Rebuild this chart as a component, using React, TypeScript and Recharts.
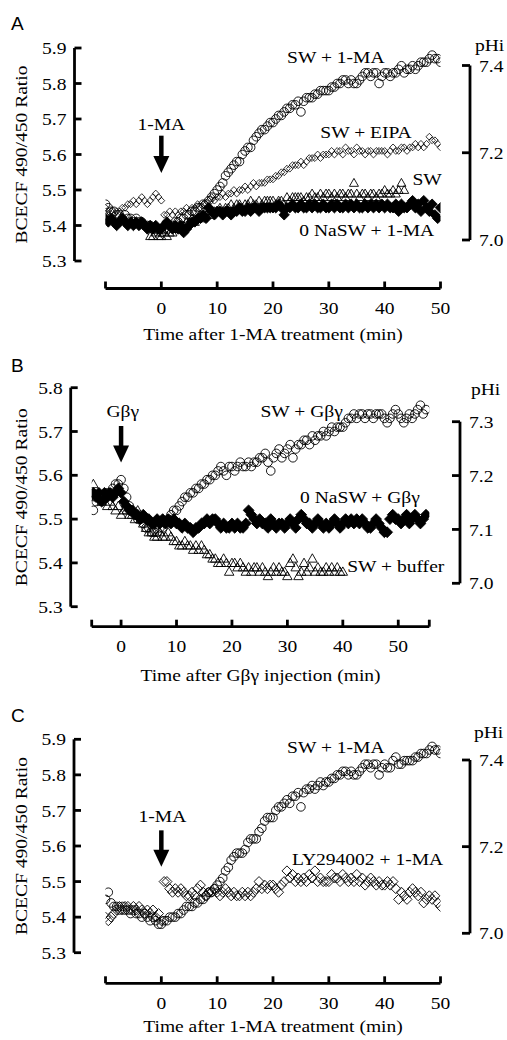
import React from 'react';
import { ComposedChart, Scatter, XAxis, YAxis, ReferenceDot, ReferenceLine } from 'recharts';

// ---------- time grids (min) ----------
const TIME_AC = [
  -10, -9.5, -9, -8.5, -8, -7.5, -7, -6.5, -6, -5.5,
  -5, -4.5, -4, -3.5, -3, -2.5, -2, -1.5, -1, -0.5,
  0, 0.5, 1, 1.5, 2, 2.5, 3, 3.5, 4, 4.5,
  5, 5.5, 6, 6.5, 7, 7.5, 8, 8.5, 9, 9.5,
  10, 10.5, 11, 11.5, 12, 12.5, 13, 13.5, 14, 14.5,
  15, 15.5, 16, 16.5, 17, 17.5, 18, 18.5, 19, 19.5,
  20, 20.5, 21, 21.5, 22, 22.5, 23, 23.5, 24, 24.5,
  25, 25.5, 26, 26.5, 27, 27.5, 28, 28.5, 29, 29.5,
  30, 30.5, 31, 31.5, 32, 32.5, 33, 33.5, 34, 34.5,
  35, 35.5, 36, 36.5, 37, 37.5, 38, 38.5, 39, 39.5,
  40, 40.5, 41, 41.5, 42, 42.5, 43, 43.5, 44, 44.5,
  45, 45.5, 46, 46.5, 47, 47.5, 48, 48.5, 49, 49.5,
  50,
];
const TIME_B = [
  -5, -4.5, -4, -3.5, -3, -2.5, -2, -1.5, -1, -0.5,
  0, 0.5, 1, 1.5, 2, 2.5, 3, 3.5, 4, 4.5,
  5, 5.5, 6, 6.5, 7, 7.5, 8, 8.5, 9, 9.5,
  10, 10.5, 11, 11.5, 12, 12.5, 13, 13.5, 14, 14.5,
  15, 15.5, 16, 16.5, 17, 17.5, 18, 18.5, 19, 19.5,
  20, 20.5, 21, 21.5, 22, 22.5, 23, 23.5, 24, 24.5,
  25, 25.5, 26, 26.5, 27, 27.5, 28, 28.5, 29, 29.5,
  30, 30.5, 31, 31.5, 32, 32.5, 33, 33.5, 34, 34.5,
  35, 35.5, 36, 36.5, 37, 37.5, 38, 38.5, 39, 39.5,
  40, 40.5, 41, 41.5, 42, 42.5, 43, 43.5, 44, 44.5,
  45, 45.5, 46, 46.5, 47, 47.5, 48, 48.5, 49, 49.5,
  50, 50.5, 51, 51.5, 52, 52.5, 53, 53.5, 54, 54.5,
  55,
];

// ---------- Panel A: BCECF ratio ----------
const A_SW_1MA = [
  5.46, 5.45, 5.44, 5.44, 5.43, 5.43, 5.42, 5.43, 5.42, 5.42,
  5.41, 5.42, 5.41, 5.41, 5.40, 5.40, 5.40, 5.39, 5.39, 5.39,
  5.38, 5.39, 5.39, 5.40, 5.40, 5.41, 5.41, 5.42, 5.42, 5.43,
  5.43, 5.44, 5.44, 5.45, 5.45, 5.46, 5.46, 5.47, 5.48, 5.49,
  5.50, 5.51, 5.52, 5.54, 5.55, 5.56, 5.57, 5.58, 5.58, 5.60,
  5.61, 5.62, 5.62, 5.64, 5.65, 5.66, 5.67, 5.67, 5.68, 5.69,
  5.69, 5.70, 5.71, 5.71, 5.72, 5.73, 5.73, 5.74, 5.74, 5.75,
  5.72, 5.75, 5.76, 5.76, 5.76, 5.77, 5.77, 5.78, 5.78, 5.78,
  5.78, 5.79, 5.79, 5.80, 5.80, 5.81, 5.81, 5.80, 5.81, 5.80,
  5.80, 5.81, 5.82, 5.83, 5.83, 5.82, 5.83, 5.83, 5.80, 5.82,
  5.83, 5.83, 5.82, 5.83, 5.83, 5.84, 5.85, 5.83, 5.84, 5.84,
  5.85, 5.84, 5.85, 5.86, 5.86, 5.86, 5.87, 5.88, 5.87, 5.87,
  5.86,
];
const A_SW_EIPA = [
  5.45, 5.44, 5.44, 5.43, 5.44, 5.44, 5.45, 5.45, 5.46, 5.46,
  5.47, 5.46, 5.47, 5.48, 5.47, 5.46, 5.47, 5.48, 5.49, 5.48,
  5.47, 5.43, 5.43, 5.44, 5.43, 5.44, 5.43, 5.44, 5.44, 5.45,
  5.44, 5.45, 5.45, 5.46, 5.45, 5.46, 5.46, 5.47, 5.48, 5.47,
  5.48, 5.48, 5.49, 5.48, 5.49, 5.49, 5.50, 5.49, 5.50, 5.50,
  5.51, 5.50, 5.51, 5.52, 5.51, 5.52, 5.52, 5.52, 5.53, 5.53,
  5.53, 5.54, 5.54, 5.55, 5.55, 5.56, 5.56, 5.57, 5.57, 5.57,
  5.58, 5.57, 5.58, 5.59, 5.59, 5.59, 5.60, 5.59, 5.60, 5.60,
  5.60, 5.61, 5.60, 5.61, 5.61, 5.60, 5.62, 5.61, 5.61, 5.60,
  5.62, 5.61, 5.61, 5.60, 5.61, 5.61, 5.60, 5.61, 5.61, 5.61,
  5.61, 5.60, 5.61, 5.62, 5.61, 5.61, 5.62, 5.62, 5.61, 5.62,
  5.62, 5.63, 5.62, 5.63, 5.62, 5.63, 5.65, 5.64, 5.64, 5.63,
  5.62,
];
const A_SW = [
  null, null, null, null, null, null, null, null, null, null,
  null, null, null, null, null, null, 5.37, 5.37, 5.38, 5.37,
  5.37, 5.38, 5.37, 5.38, 5.38, 5.39, 5.39, 5.40, 5.40, 5.41,
  5.41, 5.42, 5.41, 5.42, 5.43, 5.42, 5.43, 5.44, 5.43, 5.44,
  5.44, 5.45, 5.44, 5.45, 5.45, 5.46, 5.45, 5.46, 5.46, 5.45,
  5.46, 5.46, 5.47, 5.46, 5.46, 5.47, 5.46, 5.47, 5.47, 5.47,
  5.47, 5.46, 5.47, 5.47, 5.46, 5.48, 5.47, 5.48, 5.48, 5.48,
  5.48, 5.47, 5.48, 5.48, 5.49, 5.48, 5.48, 5.49, 5.48, 5.49,
  5.49, 5.48, 5.49, 5.48, 5.49, 5.49, 5.48, 5.49, 5.49, 5.52,
  5.49, 5.48, 5.49, 5.49, 5.48, 5.49, 5.49, 5.48, 5.49, 5.49,
  5.50, 5.49, 5.49, 5.50, 5.49, 5.50, 5.52, 5.50, null, null,
  null, null, null, null, null, null, null, null, null, null,
  null,
];
const A_0NASW_1MA = [
  5.42, 5.41, 5.42, 5.41, 5.40, 5.41, 5.42, 5.41, 5.40, 5.41,
  5.40, 5.41, 5.40, 5.41, 5.40, 5.39, 5.40, 5.39, 5.40, 5.39,
  5.39, 5.40, 5.41, 5.40, 5.39, 5.40, 5.39, 5.40, 5.38, 5.39,
  5.40, 5.41, 5.41, 5.42, 5.42, 5.43, 5.42, 5.45, 5.44, 5.43,
  5.44, 5.44, 5.43, 5.44, 5.44, 5.43, 5.44, 5.44, 5.45, 5.44,
  5.44, 5.45, 5.44, 5.45, 5.45, 5.44, 5.45, 5.45, 5.45, 5.45,
  5.45, 5.45, 5.46, 5.45, 5.43, 5.45, 5.45, 5.46, 5.45, 5.45,
  5.46, 5.45, 5.45, 5.46, 5.45, 5.46, 5.45, 5.45, 5.46, 5.45,
  5.45, 5.46, 5.45, 5.46, 5.45, 5.45, 5.46, 5.45, 5.46, 5.45,
  5.46, 5.45, 5.45, 5.46, 5.45, 5.46, 5.45, 5.46, 5.45, 5.46,
  5.45, 5.46, 5.45, 5.45, 5.46, 5.44, 5.46, 5.45, 5.45, 5.46,
  5.47, 5.45, 5.46, 5.44, 5.47, 5.45, 5.44, 5.46, 5.43, 5.42,
  5.45,
];

// ---------- Panel B ----------
const B_SW_GBG = [
  5.52, 5.54, 5.55, 5.54, 5.55, 5.56, 5.56, 5.57, 5.58, 5.58,
  5.59, 5.57, 5.55, 5.53, 5.52, 5.51, 5.50, 5.50, 5.49, 5.48,
  5.48, 5.47, 5.47, 5.47, 5.48, 5.48, 5.49, 5.50, 5.51, 5.52,
  5.52, 5.53, 5.54, 5.55, 5.55, 5.56, 5.56, 5.57, 5.57, 5.58,
  5.58, 5.59, 5.59, 5.60, 5.60, 5.61, 5.62, 5.61, 5.60, 5.62,
  5.62, 5.61, 5.62, 5.63, 5.62, 5.62, 5.63, 5.62, 5.63, 5.63,
  5.64, 5.64, 5.65, 5.63, 5.61, 5.64, 5.65, 5.66, 5.64, 5.65,
  5.66, 5.67, 5.64, 5.66, 5.67, 5.67, 5.68, 5.68, 5.67, 5.69,
  5.68, 5.69, 5.69, 5.70, 5.69, 5.70, 5.71, 5.70, 5.71, 5.71,
  5.71, 5.72, 5.73, 5.73, 5.74, 5.73, 5.74, 5.74, 5.73, 5.74,
  5.74, 5.73, 5.74, 5.74, 5.74, 5.73, 5.72, 5.73, 5.74, 5.75,
  5.74, 5.73, 5.72, 5.73, 5.74, 5.73, 5.74, 5.75, 5.76, 5.74,
  5.75,
];
const B_0NASW_GBG = [
  5.56, 5.55, 5.56, 5.54, 5.56, 5.55, 5.56, 5.55, 5.56, 5.57,
  5.56, 5.54, 5.53, 5.52, 5.52, 5.51, 5.51, 5.50, 5.51, 5.50,
  5.50, 5.49, 5.49, 5.50, 5.49, 5.50, 5.49, 5.50, 5.49, 5.50,
  5.49, 5.49, 5.48, 5.49, 5.48, 5.48, 5.47, 5.48, 5.48, 5.49,
  5.49, 5.50, 5.49, 5.50, 5.50, 5.49, 5.48, 5.49, 5.48, 5.48,
  5.49, 5.48, 5.49, 5.48, 5.48, 5.49, 5.52, 5.51, 5.50, 5.49,
  5.50, 5.49, 5.49, 5.48, 5.50, 5.49, 5.48, 5.49, 5.49, 5.48,
  5.49, 5.50, 5.49, 5.48, 5.50, 5.51, 5.50, 5.49, 5.49, 5.48,
  5.49, 5.50, 5.49, 5.48, 5.49, 5.48, 5.49, 5.50, 5.49, 5.48,
  5.49, 5.50, 5.49, 5.50, 5.49, 5.50, 5.49, 5.50, 5.49, 5.48,
  5.48, 5.49, 5.50, 5.49, 5.48, 5.47, 5.47, 5.50, 5.51, 5.50,
  5.50, 5.49, 5.50, 5.51, 5.49, 5.50, 5.51, 5.50, 5.49, 5.50,
  5.51,
];
const B_SW_BUFFER = [
  5.58, 5.55, 5.56, 5.54, 5.55, 5.53, 5.54, 5.53, 5.52, 5.53,
  5.51, 5.52, 5.52, 5.51, 5.51, 5.50, 5.52, 5.50, 5.49, 5.48,
  5.47, 5.47, 5.46, 5.46, 5.47, 5.46, 5.46, 5.47, 5.46, 5.45,
  5.45, 5.44, 5.44, 5.45, 5.44, 5.44, 5.43, 5.44, 5.43, 5.44,
  5.43, 5.42, 5.42, 5.41, 5.41, 5.40, 5.40, 5.41, 5.40, 5.38,
  5.40, 5.40, 5.39, 5.40, 5.39, 5.38, 5.39, 5.38, 5.39, 5.39,
  5.38, 5.39, 5.38, 5.37, 5.38, 5.39, 5.38, 5.39, 5.38, 5.38,
  5.37, 5.40, 5.41, 5.39, 5.37, 5.38, 5.40, 5.38, 5.39, 5.41,
  5.38, 5.39, 5.38, 5.38, 5.39, 5.38, 5.39, 5.38, 5.39, 5.38,
  5.38, null, null, null, null, null, null, null, null, null,
  null, null, null, null, null, null, null, null, null, null,
  null, null, null, null, null, null, null, null, null, null,
  null,
];

// ---------- Panel C ----------
const C_SW_1MA = [
  5.45, 5.47, 5.44, 5.43, 5.43, 5.42, 5.43, 5.42, 5.42, 5.41,
  5.42, 5.41, 5.41, 5.40, 5.41, 5.40, 5.39, 5.40, 5.39, 5.38,
  5.38, 5.39, 5.39, 5.40, 5.40, 5.40, 5.41, 5.41, 5.42, 5.43,
  5.43, 5.43, 5.44, 5.44, 5.45, 5.45, 5.46, 5.47, 5.47, 5.48,
  5.49, 5.50, 5.51, 5.53, 5.54, 5.56, 5.57, 5.58, 5.58, 5.58,
  5.59, 5.61, 5.62, 5.62, 5.62, 5.64, 5.65, 5.67, 5.68, 5.68,
  5.68, 5.70, 5.71, 5.71, 5.72, 5.73, 5.72, 5.74, 5.74, 5.75,
  5.71, 5.75, 5.76, 5.76, 5.77, 5.76, 5.77, 5.78, 5.77, 5.78,
  5.78, 5.79, 5.79, 5.80, 5.80, 5.81, 5.81, 5.80, 5.81, 5.80,
  5.80, 5.81, 5.82, 5.83, 5.83, 5.82, 5.83, 5.83, 5.80, 5.82,
  5.83, 5.82, 5.82, 5.84, 5.85, 5.83, 5.83, 5.84, 5.84, 5.84,
  5.84, 5.85, 5.85, 5.86, 5.86, 5.86, 5.87, 5.88, 5.87, 5.87,
  5.86,
];
const C_LY_1MA = [
  5.40, 5.39, 5.40, 5.41, 5.42, 5.43, 5.42, 5.43, 5.43, 5.42,
  5.43, 5.42, 5.43, 5.42, 5.41, 5.42, 5.41, 5.42, 5.40, 5.41,
  5.39, 5.50, 5.50, 5.48, 5.47, 5.48, 5.47, 5.48, 5.47, 5.46,
  5.46, 5.47, 5.46, 5.48, 5.49, 5.47, 5.46, 5.47, 5.47, 5.48,
  5.47, 5.46, 5.47, 5.48, 5.47, 5.46, 5.47, 5.46, 5.46, 5.47,
  5.46, 5.47, 5.46, 5.47, 5.48, 5.50, 5.48, 5.49, 5.48, 5.49,
  5.49, 5.48, 5.47, 5.49, 5.50, 5.53, 5.51, 5.52, 5.50, 5.51,
  5.50, 5.51, 5.50, 5.52, 5.51, 5.53, 5.50, 5.51, 5.50, 5.50,
  5.50, 5.52, 5.51, 5.51, 5.50, 5.52, 5.51, 5.50, 5.51, 5.50,
  5.52, 5.50, 5.51, 5.49, 5.50, 5.51, 5.50, 5.49, 5.50, 5.49,
  5.49, 5.50, 5.49, 5.50, 5.48, 5.45, 5.47, 5.46, 5.45, 5.47,
  5.48, 5.47, 5.46, 5.47, 5.44, 5.45, 5.46, 5.45, 5.46, 5.44,
  5.43,
];

// ---------- axis ticks ----------
const RATIO_TICKS_AC = [5.3, 5.4, 5.5, 5.6, 5.7, 5.8, 5.9];
const RATIO_TICKS_B = [5.3, 5.4, 5.5, 5.6, 5.7, 5.8];
const TIME_TICKS_AC = [-10, 0, 10, 20, 30, 40, 50];
const TIME_TICKS_B = [-5.3, 0, 10, 20, 30, 40, 50, 55.6];
const PHI_TICKS_AC = [7.0, 7.2, 7.4];
const PHI_TICKS_B = [7.0, 7.1, 7.2, 7.3];

// ---------- styling ----------
const SERIF = '"Liberation Serif", "Times New Roman", serif';
const SANS = '"Liberation Sans", Arial, sans-serif';
const FS = 17;
const SX = 1.15;
const AXIS_W = 2.8;

type Pt = { t: number; v: number };
const toPts = (times: number[], vals: (number | null)[]): Pt[] =>
  times
    .map((t, i) => ({ t, v: vals[i] as number }))
    .filter((p) => p.v !== null && p.v !== undefined);

const SText = ({ x, y, children, anchor = 'middle', dy = 0, rotate = false, size = FS }: any) => (
  <text
    transform={`translate(${x},${y})${rotate ? ' rotate(-90)' : ''} scale(${SX},1)`}
    textAnchor={anchor}
    dy={dy}
    fontFamily={SERIF}
    fontSize={size}
    fill="#000"
  >
    {children}
  </text>
);

// ---------- marker shapes ----------
const circleShape = (r: number) => (p: any) => (
  <circle cx={p.cx} cy={p.cy} r={r} fill="none" stroke="#000" strokeWidth={0.9} />
);
const diamondShape = (h: number, filled: boolean, sw = 0.9) => (p: any) => (
  <path
    d={`M${p.cx},${p.cy - h}L${p.cx + h},${p.cy}L${p.cx},${p.cy + h}L${p.cx - h},${p.cy}Z`}
    fill={filled ? '#000' : 'none'}
    stroke="#000"
    strokeWidth={sw}
  />
);
const triangleShape = (s: number) => (p: any) => (
  <path
    d={`M${p.cx},${p.cy - s * 0.5}L${p.cx + s / 2},${p.cy + s * 0.38}L${p.cx - s / 2},${p.cy + s * 0.38}Z`}
    fill="none"
    stroke="#000"
    strokeWidth={0.9}
  />
);

// ---------- ticks ----------
const LeftTick = (props: any) => {
  const { x, y, payload } = props;
  return (
    <g>
      <line x1={x} x2={x + 7} y1={y} y2={y} stroke="#000" strokeWidth={AXIS_W} />
      <SText x={x - 8} y={y} anchor="end" dy="0.36em">
        {Number(payload.value).toFixed(1)}
      </SText>
    </g>
  );
};
const BottomTick = (props: any) => {
  const { x, y, payload } = props;
  const v = Number(payload.value);
  const show = v >= 0 && Math.abs(v % 10) < 1e-9;
  return (
    <g>
      <line x1={x} x2={x} y1={y} y2={y - 7} stroke="#000" strokeWidth={AXIS_W} />
      {show && (
        <SText x={x} y={y + 25.5}>
          {String(v)}
        </SText>
      )}
    </g>
  );
};
const RightTick = (props: any) => {
  const { x, y, payload } = props;
  return (
    <g>
      <line x1={x} x2={x - 8} y1={y} y2={y} stroke="#000" strokeWidth={AXIS_W} />
      <SText x={x + 9} y={y} anchor="start" dy="0.36em">
        {Number(payload.value).toFixed(1)}
      </SText>
    </g>
  );
};

const arrowShape = (p: any) => {
  const { x1, y1, x2, y2 } = p;
  const head = 17;
  return (
    <g>
      <line x1={x1} y1={y1} x2={x2} y2={y2 - head + 1} stroke="#000" strokeWidth={4.5} />
      <polygon points={`${x2 - 8},${y2 - head} ${x2 + 8},${y2 - head} ${x2},${y2}`} fill="#000" />
    </g>
  );
};

type SeriesCfg = { name: string; pts: Pt[]; shape: any };
type Note = { t: number; v: number; text: string };

type PanelCfg = {
  letter: string;
  letterY: number;
  top: number;
  height: number;
  margin: { top: number; right: number; bottom: number; left: number };
  leftSpacer: number;
  leftWidth: number;
  bottomSpacer: number;
  bottomHeight: number;
  xDomain: [number, number];
  xTicks: number[];
  yDomain: [number, number];
  yTicks: number[];
  series: SeriesCfg[];
  notes: Note[];
  arrow: { t: number; from: number; to: number };
  xTitle: string;
  titleDy: number;
  yTitleX: number;
  ph: {
    margin: { top: number; right: number; bottom: number; left: number };
    domain: [number, number];
    ticks: number[];
    labelX: number;
    labelY: number;
  };
};

const PANELS: PanelCfg[] = [
  {
    letter: 'A',
    letterY: 30,
    top: 0,
    height: 350,
    margin: { top: 48, right: 66.5, bottom: 21.5, left: 34.5 },
    leftSpacer: 31,
    leftWidth: 40,
    bottomSpacer: 27.5,
    bottomHeight: 40,
    xDomain: [-10, 50],
    xTicks: TIME_TICKS_AC,
    yDomain: [5.3, 5.9],
    yTicks: RATIO_TICKS_AC,
    series: [
      { name: 'SW + 1-MA', pts: toPts(TIME_AC, A_SW_1MA), shape: circleShape(4.3) },
      { name: 'SW + EIPA', pts: toPts(TIME_AC, A_SW_EIPA), shape: diamondShape(3.4, false, 0.8) },
      { name: 'SW', pts: toPts(TIME_AC, A_SW), shape: triangleShape(9) },
      { name: '0 NaSW + 1-MA', pts: toPts(TIME_AC, A_0NASW_1MA), shape: diamondShape(5.2, true) },
    ],
    notes: [
      { t: 31.25, v: 5.858, text: 'SW + 1-MA' },
      { t: 0, v: 5.67, text: '1-MA' },
      { t: 36.66, v: 5.646, text: 'SW + EIPA' },
      { t: 47.59, v: 5.515, text: 'SW' },
      { t: 36.78, v: 5.37, text: '0 NaSW + 1-MA' },
    ],
    arrow: { t: 0, from: 5.653, to: 5.548 },
    xTitle: 'Time after 1-MA treatment (min)',
    titleDy: 51,
    yTitleX: 21,
    ph: {
      margin: { top: 65.5, right: 0, bottom: 110, left: 0 },
      domain: [7.0, 7.4],
      ticks: PHI_TICKS_AC,
      labelX: 475,
      labelY: 51,
    },
  },
  {
    letter: 'B',
    letterY: 22,
    top: 350,
    height: 345,
    margin: { top: 37.7, right: 77.7, bottom: 28.3, left: 30.7 },
    leftSpacer: 21,
    leftWidth: 40,
    bottomSpacer: 20,
    bottomHeight: 40,
    xDomain: [-5.3, 55.6],
    xTicks: TIME_TICKS_B,
    yDomain: [5.3, 5.8],
    yTicks: RATIO_TICKS_B,
    series: [
      { name: 'SW + Gβγ', pts: toPts(TIME_B, B_SW_GBG), shape: circleShape(4.3) },
      { name: 'SW + buffer', pts: toPts(TIME_B, B_SW_BUFFER), shape: triangleShape(9.5) },
      { name: '0 NaSW + Gβγ', pts: toPts(TIME_B, B_0NASW_GBG), shape: diamondShape(5.4, true) },
    ],
    notes: [
      { t: 0.3, v: 5.734, text: 'Gβγ' },
      { t: 32.58, v: 5.734, text: 'SW + Gβγ' },
      { t: 43.1, v: 5.536, text: '0 NaSW + Gβγ' },
      { t: 49.55, v: 5.38, text: 'SW + buffer' },
    ],
    arrow: { t: 0, from: 5.7126, to: 5.629 },
    xTitle: 'Time after Gβγ injection (min)',
    titleDy: 54,
    yTitleX: 21,
    ph: {
      margin: { top: 71.7, right: 10, bottom: 111.7, left: 0 },
      domain: [7.0, 7.3],
      ticks: PHI_TICKS_B,
      labelX: 471,
      labelY: 45,
    },
  },
  {
    letter: 'C',
    letterY: 27,
    top: 695,
    height: 345,
    margin: { top: 44.3, right: 66.5, bottom: 16.7, left: 34 },
    leftSpacer: 31.5,
    leftWidth: 40,
    bottomSpacer: 30.6,
    bottomHeight: 40,
    xDomain: [-10, 50],
    xTicks: TIME_TICKS_AC,
    yDomain: [5.3, 5.9],
    yTicks: RATIO_TICKS_AC,
    series: [
      { name: 'SW + 1-MA', pts: toPts(TIME_AC, C_SW_1MA), shape: circleShape(4.3) },
      { name: 'LY294002 + 1-MA', pts: toPts(TIME_AC, C_LY_1MA), shape: diamondShape(5, false) },
    ],
    notes: [
      { t: 0.2, v: 5.668, text: '1-MA' },
      { t: 31.25, v: 5.861, text: 'SW + 1-MA' },
      { t: 36.93, v: 5.547, text: 'LY294002 + 1-MA' },
    ],
    arrow: { t: 0, from: 5.644, to: 5.542 },
    xTitle: 'Time after 1-MA treatment (min)',
    titleDy: 49,
    yTitleX: 21,
    ph: {
      margin: { top: 65, right: 0, bottom: 106.7, left: 0 },
      domain: [7.0, 7.4],
      ticks: PHI_TICKS_AC,
      labelX: 474,
      labelY: 42.5,
    },
  },
];

const Panel = ({ cfg }: { cfg: PanelCfg }) => {
  const axisLine = { stroke: '#000', strokeWidth: AXIS_W };
  return (
    <>
      <div style={{ position: 'absolute', left: 0, top: cfg.top, width: 507, height: cfg.height }}>
        <ComposedChart width={507} height={cfg.height} margin={cfg.margin}>
          <XAxis
            xAxisId="sp"
            type="number"
            domain={[0, 1]}
            height={cfg.bottomSpacer}
            tick={false}
            tickLine={false}
            axisLine={false}
          />
          <XAxis
            xAxisId="x"
            dataKey="t"
            type="number"
            domain={cfg.xDomain}
            ticks={cfg.xTicks}
            interval={0}
            allowDataOverflow
            height={cfg.bottomHeight}
            axisLine={axisLine}
            tickLine={false}
            tickSize={0}
            tickMargin={0}
            tick={BottomTick}
            label={(p: any) => {
              const vb = p.viewBox || { x: 0, y: 0, width: 0, height: 0 };
              return (
                <SText x={vb.x + vb.width / 2} y={vb.y + cfg.titleDy}>
                  {cfg.xTitle}
                </SText>
              );
            }}
          />
          <YAxis
            yAxisId="sp"
            type="number"
            domain={[0, 1]}
            width={cfg.leftSpacer}
            tick={false}
            tickLine={false}
            axisLine={false}
          />
          <YAxis
            yAxisId="y"
            dataKey="v"
            type="number"
            domain={cfg.yDomain}
            ticks={cfg.yTicks}
            interval={0}
            allowDataOverflow
            width={cfg.leftWidth}
            axisLine={axisLine}
            tickLine={false}
            tickSize={0}
            tickMargin={0}
            tick={LeftTick}
            label={(p: any) => {
              const vb = p.viewBox || { x: 0, y: 0, width: 0, height: 0 };
              return (
                <SText x={cfg.yTitleX} y={vb.y + vb.height / 2} rotate dy="0.35em">
                  BCECF 490/450 Ratio
                </SText>
              );
            }}
          />
          {cfg.series.map((s) => (
            <Scatter
              key={s.name}
              name={s.name}
              data={s.pts}
              xAxisId="x"
              yAxisId="y"
              dataKey="v"
              shape={s.shape}
              isAnimationActive={false}
            />
          ))}
          {cfg.notes.map((n) => (
            <ReferenceDot
              key={n.text}
              xAxisId="x"
              yAxisId="y"
              x={n.t}
              y={n.v}
              r={0}
              ifOverflow="visible"
              shape={(p: any) => (
                <SText x={p.cx} y={p.cy}>
                  {n.text}
                </SText>
              )}
            />
          ))}
          <ReferenceLine
            xAxisId="x"
            yAxisId="y"
            segment={[
              { x: cfg.arrow.t, y: cfg.arrow.from },
              { x: cfg.arrow.t, y: cfg.arrow.to },
            ]}
            ifOverflow="visible"
            shape={arrowShape}
          />
        </ComposedChart>
      </div>
      <div style={{ position: 'absolute', left: 0, top: cfg.top, width: 507, height: cfg.height }}>
        <ComposedChart width={507} height={cfg.height} margin={cfg.ph.margin}>
          <XAxis xAxisId="h" type="number" domain={[0, 1]} hide />
          <YAxis
            yAxisId="ph"
            orientation="right"
            type="number"
            domain={cfg.ph.domain}
            ticks={cfg.ph.ticks}
            interval={0}
            allowDataOverflow
            width={37}
            axisLine={axisLine}
            tickLine={false}
            tickSize={0}
            tickMargin={0}
            tick={RightTick}
            label={() => (
              <SText x={cfg.ph.labelX} y={cfg.ph.labelY} anchor="start">
                pHi
              </SText>
            )}
          />
        </ComposedChart>
      </div>
      <div style={{ position: 'absolute', left: 0, top: cfg.top, pointerEvents: 'none' }}>
        <svg width={40} height={40}>
          <text x={11} y={cfg.letterY} fontFamily={SANS} fontSize={19} fill="#000">
            {cfg.letter}
          </text>
        </svg>
      </div>
    </>
  );
};

export default function App() {
  return (
    <div style={{ position: 'absolute', left: 0, top: 0, width: 507, height: 1040, background: '#fff' }}>
      {PANELS.map((p) => (
        <Panel key={p.letter} cfg={p} />
      ))}
    </div>
  );
}
